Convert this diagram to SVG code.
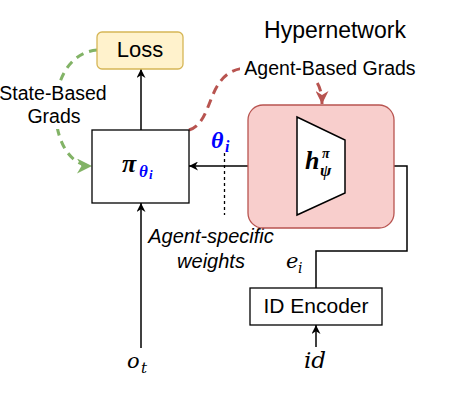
<svg xmlns="http://www.w3.org/2000/svg" width="457" height="402" viewBox="0 0 457 402">
<defs>
<marker id="arr" viewBox="0 0 10 10" refX="10" refY="5" markerWidth="10" markerHeight="9" markerUnits="userSpaceOnUse" orient="auto"><path d="M0,0 L10,5 L0,10 L3,5 Z" fill="#000"/></marker>
<marker id="arrG" viewBox="0 0 10 10" refX="10" refY="5" markerWidth="17" markerHeight="15" markerUnits="userSpaceOnUse" orient="auto"><path d="M0,0 L10,5 L0,10 L3,5 Z" fill="#82b366"/></marker>
<marker id="arrR" viewBox="0 0 10 10" refX="10" refY="5" markerWidth="13" markerHeight="13" markerUnits="userSpaceOnUse" orient="auto"><path d="M0,0 L10,5 L0,10 L3,5 Z" fill="#b85450"/></marker>
</defs>
<style>
.box{fill:#fff;stroke:#000;stroke-width:1.3}
.lbl{font-family:"Liberation Sans",Arial,sans-serif;fill:#000;text-anchor:middle}
.math{font-family:"Liberation Serif","Times New Roman",serif;font-style:italic;fill:#000}
.mi{font-family:"DejaVu Serif",serif;font-style:italic;fill:#000}
.edge{fill:none;stroke:#000;stroke-width:1.5}
.blue{fill:#0000ff}
</style>
<rect x="0" y="0" width="457" height="402" fill="#fff"/>

<g id="connectors">
<path class="edge" d="M141,130 L141,69" marker-end="url(#arr)"/>
<path class="edge" d="M297,166 L189,166" marker-end="url(#arr)"/>
<path class="edge" d="M316,288 L316,251 L407,251 L407,166 L346,166" marker-end="url(#arr)"/>
<path class="edge" d="M141,348 L141,203" marker-end="url(#arr)"/>
<path class="edge" d="M316,347 L316,325" marker-end="url(#arr)"/>
<path d="M224.5,153 L224.5,215" fill="none" stroke="#000" stroke-width="1.3" stroke-dasharray="3 3"/>
<path d="M97,50 C40,55 45,166 92,166" fill="none" stroke="#82b366" stroke-width="3" stroke-dasharray="8 6" marker-end="url(#arrG)"/>
<path d="M189,130 C215,122 205,72 245,68 C300,66 322,70 322,104" fill="none" stroke="#b85450" stroke-width="3" stroke-dasharray="9 6" marker-end="url(#arrR)"/>
</g>

<g id="edge-labels">
<rect x="240" y="58" width="178" height="23" fill="#fff"/>
<text class="lbl" x="330" y="75" font-size="19.5">Agent-Based Grads</text>
<rect x="0" y="81" width="106" height="48" fill="#fff"/>
<text class="lbl" x="53" y="100" font-size="19.5">State-Based</text>
<text class="lbl" x="54" y="123" font-size="19.5">Grads</text>
<text class="lbl" x="211" y="243" font-size="20" font-style="italic">Agent-specific</text>
<text class="lbl" x="211" y="268" font-size="20" font-style="italic">weights</text>
<text class="math blue" x="211" y="148" font-size="24" font-weight="bold">θ</text>
<text class="math blue" x="225" y="152" font-size="16" font-weight="bold">i</text>
<text class="mi" x="286" y="268" font-size="21">e</text>
<text class="mi" x="298" y="273" font-size="14">i</text>
<text class="mi" x="127" y="368" font-size="21">o</text>
<text class="mi" x="141" y="373" font-size="15">t</text>
<text class="mi" x="304" y="368" font-size="23">id</text>
</g>

<g id="hypernetwork">
<rect x="248" y="105" width="146" height="123" rx="15" fill="#f8cecc" stroke="#b85450" stroke-width="1.3"/>
<text class="lbl" x="335" y="38" font-size="23">Hypernetwork</text>
</g>

<g id="hnet">
<polygon points="297,117 345,140 345,193 297,215" fill="#fff" stroke="#000" stroke-width="1.5"/>
<text class="math" x="305" y="169" font-size="26" font-weight="bold">h</text>
<text class="math" x="322" y="158" font-size="14" font-weight="bold">π</text>
<text class="math" x="320" y="176" font-size="17" font-weight="bold">ψ</text>
</g>

<g id="policy">
<rect class="box" x="92" y="130" width="97" height="73"/>
<text class="math" x="122" y="172" font-size="26" font-weight="bold" font-style="normal">π</text>
<text class="math blue" x="139" y="177" font-size="17" font-weight="bold">θ</text>
<text class="math blue" x="149" y="179" font-size="13" font-weight="bold">i</text>
</g>

<g id="loss">
<rect x="97" y="32" width="86" height="37" rx="5" fill="#fff2cc" stroke="#d6b656" stroke-width="1.3"/>
<text class="lbl" x="140" y="57" font-size="22">Loss</text>
</g>

<g id="id-encoder">
<rect class="box" x="250" y="288" width="132" height="37"/>
<text class="lbl" x="316" y="313" font-size="21">ID Encoder</text>
</g>
</svg>
